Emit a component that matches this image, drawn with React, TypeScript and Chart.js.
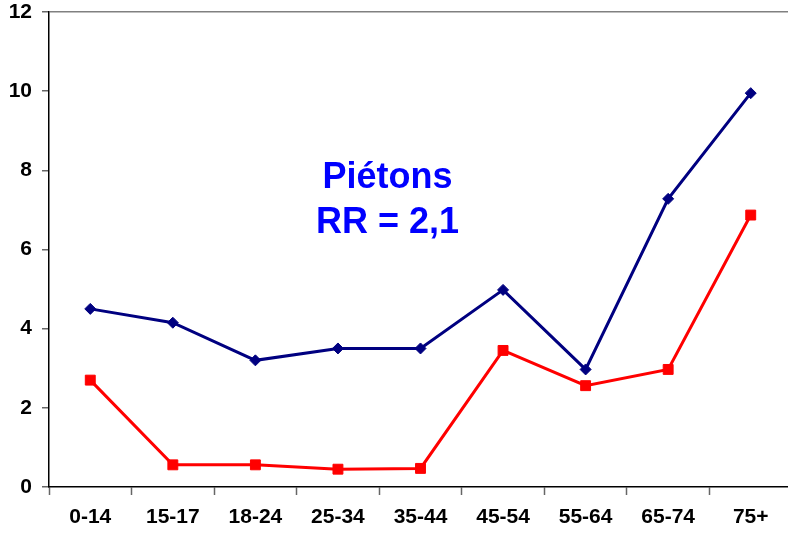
import { useEffect, useRef } from 'react';
import { Chart, registerables } from 'chart.js';

Chart.register(...registerables);

const categories = ['0-14', '15-17', '18-24', '25-34', '35-44', '45-54', '55-64', '65-74', '75+'];
const navySeries = [4.5, 4.15, 3.2, 3.5, 3.5, 4.98, 2.97, 7.28, 9.95];
const redSeries = [2.7, 0.56, 0.56, 0.45, 0.47, 3.45, 2.56, 2.97, 6.87];
const yTicks = [0, 2, 4, 6, 8, 10, 12];
const titleLines = ['Piétons', 'RR = 2,1'];

const FONT = '"Liberation Sans", Arial, sans-serif';

const titlePlugin = {
  id: 'innerTitle',
  afterDatasetsDraw(chart: any) {
    const { ctx, scales } = chart;
    const x = scales.x.getPixelForValue(3.6);
    const ys = [7.8, 6.68];
    ctx.save();
    ctx.fillStyle = '#0000FF';
    ctx.font = `bold 36px ${FONT}`;
    ctx.textAlign = 'center';
    ctx.textBaseline = 'middle';
    titleLines.forEach((t, i) => {
      ctx.fillText(t, x, scales.y.getPixelForValue(ys[i]));
    });
    ctx.restore();
  },
};

export default function App() {
  const ref = useRef<HTMLCanvasElement | null>(null);
  useEffect(() => {
    if (!ref.current) return;
    const chart = new Chart(ref.current, {
      type: 'line',
      data: {
        labels: categories,
        datasets: [
          {
            label: 'A',
            data: navySeries,
            borderColor: '#000080',
            backgroundColor: '#000080',
            borderWidth: 3,
            pointStyle: 'rectRot',
            pointRadius: 5.5,
            pointBorderWidth: 1,
            tension: 0,
          },
          {
            label: 'B',
            data: redSeries,
            borderColor: '#FF0000',
            backgroundColor: '#FF0000',
            borderWidth: 3,
            pointStyle: 'rect',
            pointRadius: 7,
            pointBorderWidth: 1,
            tension: 0,
          },
        ],
      },
      options: {
        responsive: false,
        animation: false,
        layout: { padding: { left: 0, right: 3.5, top: 12, bottom: 0 } },
        plugins: { legend: { display: false }, tooltip: { enabled: false }, title: { display: false } },
        scales: {
          x: {
            offset: true,
            afterFit: (scale: any) => {
              scale.height = 49;
              scale.paddingLeft = 0;
              scale.paddingRight = 0;
            },
            grid: {
              offset: true,
              drawOnChartArea: false,
              drawTicks: true,
              tickLength: 8,
              tickColor: '#666',
              tickWidth: 1.5,
            },
            border: { display: true, color: '#000', width: 1.5 },
            ticks: {
              color: '#000',
              font: { family: FONT, size: 21, weight: 'bold' },
              padding: 10,
              maxRotation: 0,
              autoSkip: false,
            },
          },
          y: {
            min: 0,
            max: 12,
            afterBuildTicks: (scale: any) => {
              scale.ticks = yTicks.map((v) => ({ value: v }));
            },
            afterFit: (scale: any) => {
              scale.width = 49;
              scale.paddingTop = 0;
              scale.paddingBottom = 0;
            },
            grid: {
              drawOnChartArea: true,
              color: (c: any) => (c.tick && c.tick.value === 12 ? '#808080' : 'rgba(0,0,0,0)'),
              lineWidth: 1.5,
              drawTicks: true,
              tickLength: 7,
              tickColor: '#666',
              tickWidth: 1.5,
            },
            border: { display: true, color: '#000', width: 1.5 },
            ticks: {
              color: '#000',
              font: { family: FONT, size: 21, weight: 'bold' },
              padding: 10,
            },
          },
        },
      },
      plugins: [titlePlugin],
    });
    return () => chart.destroy();
  }, []);
  return (
    <div
      style={{
        position: 'fixed',
        left: 0,
        top: 0,
        width: 788,
        height: 536,
        overflow: 'hidden',
        background: '#fff',
      }}
    >
      <canvas ref={ref} width={800} height={536} style={{ display: 'block' }} />
    </div>
  );
}
